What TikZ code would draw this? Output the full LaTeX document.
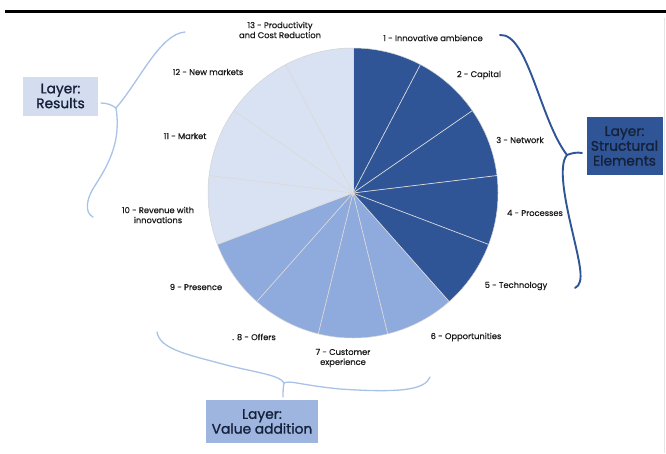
\documentclass[tikz,border=0pt]{standalone}
\usepackage{fontspec}
\setmainfont{Poppins}
\newfontfamily\lblfont{Poppins}[FakeBold=0.5]
\newfontfamily\boxfont{Poppins}[FakeBold=1.2]
\definecolor{darkb}{HTML}{2F5597}
\definecolor{medb}{HTML}{8FAADC}
\definecolor{lightb}{HTML}{D9E2F3}
\definecolor{bracel}{HTML}{A9C2E8}
\definecolor{boxl}{HTML}{D3DDEF}
\definecolor{boxm}{HTML}{9EB5E0}
\definecolor{txt}{HTML}{1A1A1A}
\definecolor{boxtxt}{HTML}{15203A}
\tikzset{
  lbl/.style={font=\lblfont\fontsize{8.3}{10}\selectfont, text=txt, align=center, inner sep=0pt},
  layerbox/.style={font=\boxfont\fontsize{13.8}{14.8}\selectfont, text=boxtxt, align=center, inner sep=0pt},
  sepline/.style={draw=gray!30, line width=0.7pt},
  lbrace/.style={draw=bracel, line width=1.3pt, line cap=round},
  dbrace/.style={draw=darkb, line width=1.9pt, line cap=round}
}
\begin{document}
\begin{tikzpicture}[x=1pt,y=-1pt]
\useasboundingbox (0,0) rectangle (666,453);
\fill[white] (0,0) rectangle (666,453);
% top rule and right edge
\draw[line width=3pt] (5,11.5) -- (666,11.5);
\draw[gray!20, line width=0.8pt] (664.5,18) -- (664.5,453);
% pie
\begin{scope}[shift={(353,193)}, yscale=-1]
  \pgfmathsetmacro{\s}{360/13}
  \foreach \k in {1,...,13}{
    \pgfmathsetmacro{\a}{90-(\k-1)*\s}
    \pgfmathsetmacro{\b}{90-\k*\s}
    \ifnum\k<6 \def\c{darkb}\else\ifnum\k<10 \def\c{medb}\else\def\c{lightb}\fi\fi
    \fill[\c] (0,0) -- (\a:145) arc[start angle=\a, end angle=\b, radius=145] -- cycle;
  }
  \foreach \k in {0,...,12}{
    \pgfmathsetmacro{\a}{90-\k*\s}
    \draw[sepline] (0,0) -- (\a:145);
  }
  \draw[gray!35, line width=0.5pt] (0,0) circle[radius=145];
\end{scope}
% labels
\node[lbl] (l13) at (280,30) {13 - Productivity\\and Cost Reduction};
\node[lbl] (l1) at (433,38) {1 - Innovative ambience};
\node[lbl] (l2) at (479,75) {2 - Capital};
\node[lbl] (l3) at (520,140) {3 - Network};
\node[lbl] (l4) at (535,213) {4 - Processes};
\node[lbl] (l5) at (516,286) {5 - Technology};
\node[lbl] (l6) at (466,337) {6 - Opportunities};
\node[lbl] (l7) at (343,358) {7 - Customer\\experience};
\node[lbl] (l8) at (254,337) {. 8 - Offers};
\node[lbl] (l9) at (196,287) {9 - Presence};
\node[lbl] (l10) at (158,215) {10 - Revenue with\\innovations};
\node[lbl] (l11) at (185,136) {11 - Market};
\node[lbl] (l12) at (208,72) {12 - New markets};
% layer boxes
\node[layerbox, fill=boxl, minimum width=75pt, minimum height=39pt] (res) at (60.5,96) {Layer:\\Results};
\node[layerbox, fill=darkb, minimum width=76pt, minimum height=58pt] (str) at (624.5,146) {Layer:\\Structural\\Elements};
\node[layerbox, fill=boxm, minimum width=112pt, minimum height=43pt] (val) at (262,421.5) {Layer:\\Value addition};
% braces
\coordinate (lj) at (116,108);
\draw[lbrace] (185,32) .. controls (160,34) and (140,80) .. (lj);
\draw[lbrace] (101,103) .. controls (107,103) and (112,105) .. (lj);
\draw[lbrace] (lj) .. controls (121,140) and (110,162) .. (96,184) .. controls (85,200) and (85,213) .. (93,217);
\coordinate (rj) at (567,155);
\draw[dbrace] (500,35) .. controls (528,33) and (540,120) .. (rj);
\draw[dbrace] (rj) .. controls (572,153) and (577,152) .. (582,153);
\draw[dbrace] (rj) .. controls (558,165) and (565,200) .. (572,230) .. controls (580,265) and (585,283) .. (575,288);
\coordinate (bj) at (284,383);
\draw[lbrace] (157,332) .. controls (160,350) and (190,355) .. (230,366) .. controls (265,374) and (280,376) .. (bj);
\draw[lbrace] (bj) .. controls (283,388) and (283,393) .. (283,397);
\draw[lbrace] (bj) .. controls (290,380) and (300,385) .. (340,389) .. controls (400,393) and (425,390) .. (430,377);
\end{tikzpicture}
\end{document}
